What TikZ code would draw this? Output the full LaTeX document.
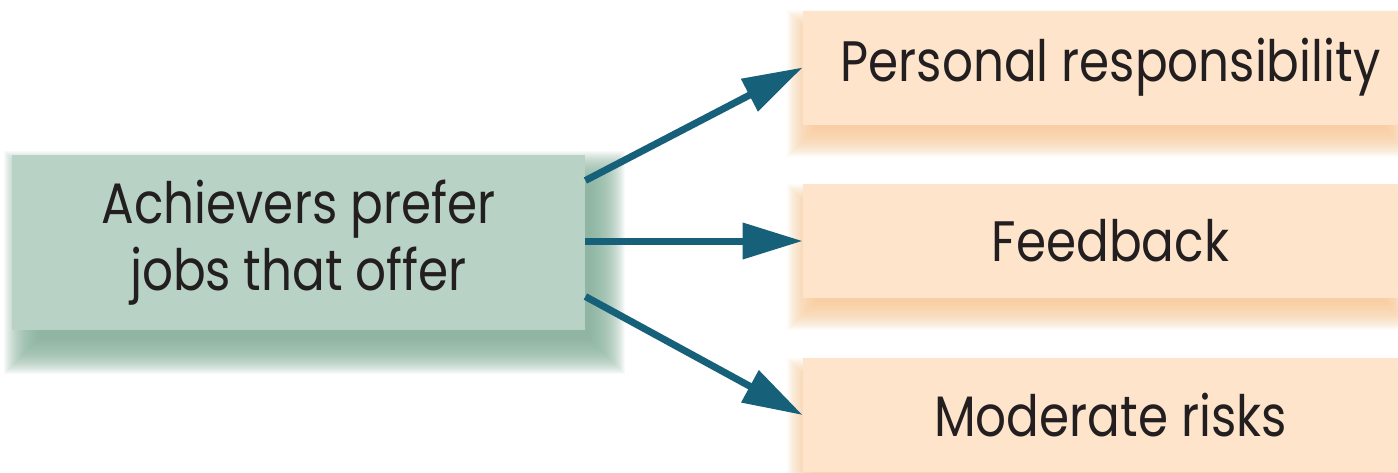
\documentclass[tikz,border=0pt]{standalone}
\usepackage{fontspec}
\setmainfont{Poppins}[FakeStretch=0.85]
\usetikzlibrary{arrows.meta,backgrounds}
\definecolor{greenbox}{HTML}{B8D3C5}
\definecolor{greenshadow}{HTML}{8AB59F}
\definecolor{peachbox}{HTML}{FDE4CA}
\definecolor{peachshadow}{HTML}{F9CC9A}
\definecolor{arrowblue}{HTML}{16607A}
\definecolor{textdark}{HTML}{231F20}
\tikzset{
  leftbox/.style={fill=greenbox, draw=none, minimum width=286.5pt, minimum height=87.5pt,
    inner sep=0pt, align=center, text=textdark, font=\fontsize{28.5}{33.5}\selectfont},
  rightbox/.style={fill=peachbox, draw=none, minimum width=297.5pt, minimum height=57pt,
    inner sep=0pt, align=center, text=textdark, font=\fontsize{28.5}{30}\selectfont},
  arr/.style={draw=arrowblue, line width=3.5pt, -{Triangle[length=30pt,width=17.5pt]}},
}
\newcommand\mysoftshadow[5]{% node, xshift, yshift, colour, max spread
  \foreach \e in {#5,...,-12}
    \fill[#4, opacity=0.06] ([shift={(#2-\e,#3-\e)}]#1.north west) rectangle ([shift={(#2+\e,#3+\e)}]#1.south east);
}
\begin{document}
\begin{tikzpicture}[x=0.5pt,y=-0.5pt]
\useasboundingbox (0,0) rectangle (1398,472);
\clip (0,0) rectangle (1398,472);
\node[leftbox] (L) at (298.5,242.5) {Achievers prefer\\jobs that offer};
\node[rightbox] (R1) at (1100.5,67.5) {\hspace*{10pt}Personal responsibility};
\node[rightbox] (R2) at (1100.5,241) {\hspace*{10pt}Feedback};
\node[rightbox] (R3) at (1100.5,415) {\hspace*{10pt}Moderate risks};
\begin{pgfonlayer}{background}
\fill[white] (0,0) rectangle (1398,472);
\mysoftshadow{L}{16}{20}{greenshadow}{24}
\mysoftshadow{R1}{0}{16}{peachshadow}{16}
\mysoftshadow{R2}{0}{16}{peachshadow}{16}
\mysoftshadow{R3}{0}{16}{peachshadow}{16}
\end{pgfonlayer}
\draw[arr] ([yshift=31pt]L.east) -- (R1.west);
\draw[arr] (L.east |- R2.west) -- (R2.west);
\draw[arr] ([yshift=-27pt]L.east) -- (R3.west);
\end{tikzpicture}
\end{document}
